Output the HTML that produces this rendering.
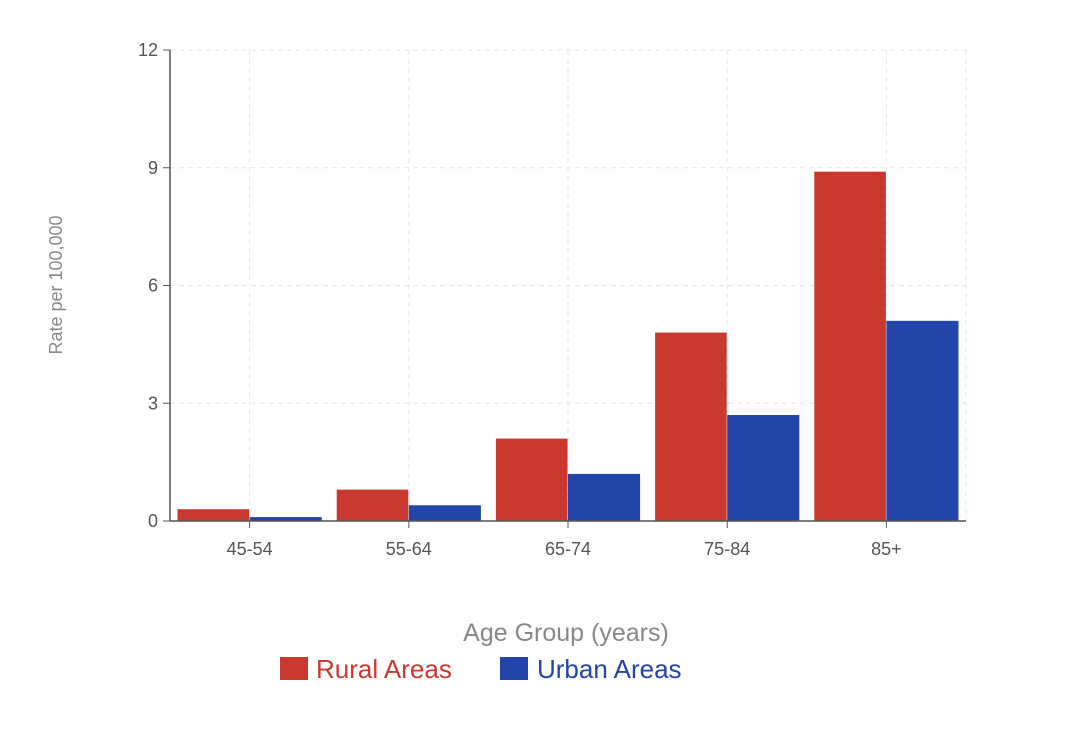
<!DOCTYPE html>
<html><head><meta charset="utf-8"><style>
body{margin:0;background:#fff;font-family:"Liberation Sans",sans-serif}
svg text{font-family:"Liberation Sans",sans-serif}
</style></head><body>
<svg width="1068" height="742">
<g id="grid"></g>
<g id="bars"></g>
<g id="axes"></g>
<text x="62" y="285" transform="rotate(-90 62 285)" text-anchor="middle" font-size="18" fill="#888">Rate per 100,000</text>
<text x="566" y="641" text-anchor="middle" font-size="25" fill="#888">Age Group (years)</text>
<g>
<rect x="280" y="657" width="28" height="23" fill="#c9392f"/>
<text x="316" y="678" font-size="26" fill="#c9392f">Rural Areas</text>
<rect x="500" y="657" width="28" height="23" fill="#2344a8"/>
<text x="537" y="678" font-size="26" fill="#2344a8">Urban Areas</text>
</g>
</svg>
<script>
const categories=["45-54","55-64","65-74","75-84","85+"];
const rural=[0.3,0.8,2.1,4.8,8.9];
const urban=[0.1,0.4,1.2,2.7,5.1];
const yTicks=[0,3,6,9,12];
const NS="http://www.w3.org/2000/svg";
const x0=170,x1=966,y0=521,y1=50,yMax=12;
const bw=(x1-x0)/categories.length;
const ys=v=>y0-(v/yMax)*(y0-y1);
const xc=i=>x0+bw*(i+0.5);
function mk(t,a,p){const e=document.createElementNS(NS,t);for(const k in a)e.setAttribute(k,a[k]);p.appendChild(e);return e;}
const grid=document.getElementById('grid'),bars=document.getElementById('bars'),axes=document.getElementById('axes');
yTicks.forEach(t=>{
 if(t>0){const l=mk('line',{x1:x0,x2:x1,y1:ys(t),y2:ys(t),stroke:'#e6e6e6','stroke-dasharray':'5,4'},grid);
 
 }
 const tk=mk('line',{x1:x0-7,x2:x0,y1:ys(t),y2:ys(t),stroke:'#555'},axes);
 
 
 const tx=mk('text',{x:x0-12,y:ys(t)+6,'text-anchor':'end','font-size':18,fill:'#555'},axes);
 tx.textContent=t;
 
 
});
const rg=mk('line',{x1:x1,x2:x1,y1:y1,y2:y0,stroke:'#e6e6e6','stroke-dasharray':'5,4'},grid);


const pad=7.5,half=(bw-2*pad)/2;
categories.forEach((c,i)=>{
 const g=mk('line',{x1:xc(i),x2:xc(i),y1:y1,y2:y0,stroke:'#e6e6e6','stroke-dasharray':'5,4'},grid);
 
 
 const left=x0+bw*i+pad;
 const r=mk('rect',{x:left,y:ys(rural[i]),width:half-0.5,height:y0-ys(rural[i]),fill:'#c9392f'},bars);
 
 
 const u=mk('rect',{x:left+half,y:ys(urban[i]),width:half,height:y0-ys(urban[i]),fill:'#2344a8'},bars);
 
 
 const tk=mk('line',{x1:xc(i),x2:xc(i),y1:y0,y2:y0+7,stroke:'#555'},axes);
 
 
 const tx=mk('text',{x:xc(i),y:y0+34,'text-anchor':'middle','font-size':18,fill:'#555'},axes);
 tx.textContent=c;
 
 
});
const ya=mk('line',{x1:x0,x2:x0,y1:y1,y2:y0,stroke:'#555','stroke-width':1.5},axes);


const xa=mk('line',{x1:x0,x2:x1,y1:y0,y2:y0,stroke:'#555','stroke-width':1.5},axes);


</script>
</body></html>
